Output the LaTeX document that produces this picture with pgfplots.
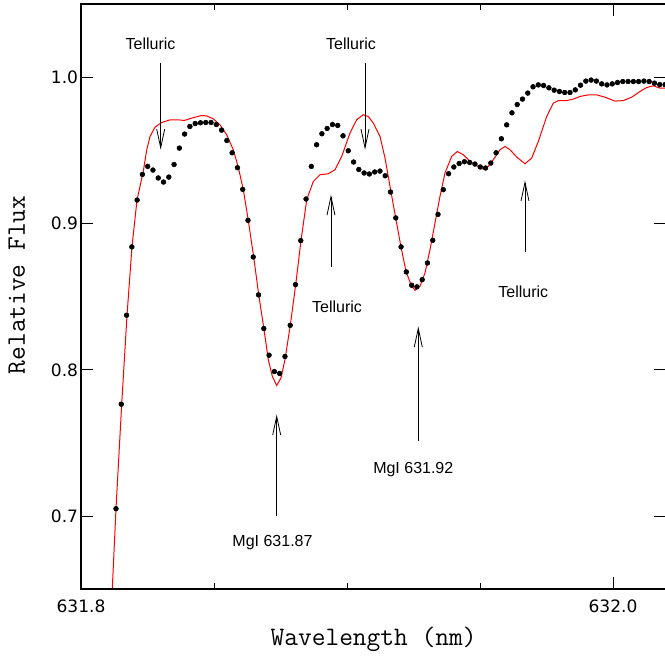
\documentclass[border=0pt]{standalone}
\usepackage{pgfplots}
\usepackage{pgfplotstable}
\pgfplotsset{compat=1.18}
\usetikzlibrary{arrows.meta}
\usepackage{fontspec}
\setmainfont{Liberation Sans}
\newfontfamily\tickfont{DejaVu Sans}

% x = wavelength - 631.8 nm
\pgfplotstableread{
x y
0.01316 0.7051
0.01514 0.7765
0.01713 0.8373
0.01911 0.8840
0.02110 0.9160
0.02308 0.9335
0.02507 0.9390
0.02705 0.9365
0.02904 0.9311
0.03102 0.9283
0.03301 0.9317
0.03499 0.9403
0.03698 0.9515
0.03896 0.9611
0.04094 0.9663
0.04293 0.9683
0.04491 0.9688
0.04690 0.9690
0.04888 0.9690
0.05087 0.9676
0.05285 0.9638
0.05484 0.9567
0.05682 0.9483
0.05881 0.9381
0.06079 0.9233
0.06278 0.9021
0.06476 0.8771
0.06674 0.8512
0.06873 0.8282
0.07071 0.8100
0.07270 0.7988
0.07468 0.7975
0.07667 0.8091
0.07865 0.8304
0.08064 0.8582
0.08262 0.8883
0.08461 0.9167
0.08659 0.9390
0.08857 0.9538
0.09056 0.9613
0.09254 0.9649
0.09453 0.9676
0.09651 0.9670
0.09850 0.9599
0.10048 0.9497
0.10247 0.9420
0.10445 0.9369
0.10644 0.9345
0.10842 0.9338
0.11041 0.9352
0.11239 0.9358
0.11437 0.9326
0.11636 0.9215
0.11834 0.9038
0.12033 0.8840
0.12231 0.8669
0.12430 0.8578
0.12628 0.8567
0.12827 0.8616
0.13025 0.8730
0.13224 0.8885
0.13422 0.9062
0.13621 0.9231
0.13819 0.9340
0.14017 0.9386
0.14216 0.9410
0.14414 0.9422
0.14613 0.9417
0.14811 0.9406
0.15010 0.9386
0.15208 0.9379
0.15407 0.9413
0.15605 0.9483
0.15804 0.9579
0.16002 0.9674
0.16201 0.9756
0.16399 0.9813
0.16597 0.9850
0.16796 0.9891
0.16994 0.9934
0.17193 0.9947
0.17391 0.9943
0.17590 0.9927
0.17788 0.9911
0.17987 0.9902
0.18185 0.9895
0.18384 0.9895
0.18582 0.9913
0.18780 0.9945
0.18979 0.9973
0.19177 0.9980
0.19376 0.9973
0.19574 0.9954
0.19773 0.9947
0.19971 0.9954
0.20170 0.9963
0.20368 0.9970
0.20567 0.9970
0.20765 0.9970
0.20963 0.9970
0.21162 0.9973
0.21360 0.9970
0.21559 0.9959
0.21757 0.9949
0.21956 0.9949
}\obs

\pgfplotstableread{
x y
0.01177 0.6505
0.01316 0.7051
0.01530 0.7765
0.01729 0.8370
0.01917 0.8840
0.02105 0.9160
0.02342 0.9356
0.02470 0.9503
0.02594 0.9594
0.02782 0.9658
0.03034 0.9690
0.03346 0.9708
0.03658 0.9708
0.03883 0.9704
0.04162 0.9720
0.04538 0.9738
0.04726 0.9735
0.04974 0.9715
0.05226 0.9674
0.05477 0.9606
0.05726 0.9503
0.05914 0.9384
0.06102 0.9231
0.06289 0.9021
0.06492 0.8771
0.06680 0.8516
0.06880 0.8275
0.07041 0.8070
0.07192 0.7956
0.07357 0.7893
0.07519 0.7945
0.07669 0.8070
0.07868 0.8304
0.08071 0.8582
0.08271 0.8883
0.08485 0.9162
0.08733 0.9287
0.08985 0.9333
0.09297 0.9340
0.09549 0.9367
0.09801 0.9458
0.10113 0.9618
0.10365 0.9709
0.10613 0.9743
0.10801 0.9731
0.10989 0.9686
0.11241 0.9595
0.11429 0.9447
0.11617 0.9253
0.11831 0.9038
0.12030 0.8840
0.12218 0.8673
0.12406 0.8582
0.12556 0.8543
0.12744 0.8571
0.12932 0.8662
0.13120 0.8821
0.13308 0.9003
0.13496 0.9185
0.13684 0.9345
0.13936 0.9458
0.14147 0.9492
0.14372 0.9470
0.14624 0.9424
0.14876 0.9395
0.15124 0.9372
0.15312 0.9390
0.15500 0.9435
0.15752 0.9504
0.15940 0.9526
0.16128 0.9504
0.16380 0.9454
0.16692 0.9408
0.16944 0.9447
0.17192 0.9560
0.17508 0.9731
0.17756 0.9823
0.17944 0.9840
0.18259 0.9840
0.18508 0.9850
0.18759 0.9868
0.19071 0.9879
0.19387 0.9879
0.19699 0.9863
0.20075 0.9836
0.20387 0.9840
0.20703 0.9863
0.21015 0.9902
0.21267 0.9929
0.21515 0.9941
0.21767 0.9925
0.21992 0.9925
}\model

\begin{document}
\begin{tikzpicture}
\begin{axis}[
  at={(0,0)}, anchor=south west,
  scale only axis, width=438.9pt, height=439pt,
  xmin=0, xmax=0.22, ymin=0.65, ymax=1.05,
  xtick={0,0.2}, xticklabels={631.8,632.0},
  minor xtick={0.05,0.1,0.15},
  ytick={0.7,0.8,0.9,1.0}, yticklabels={0.7,0.8,0.9,1.0},
  tick align=inside,
  major tick length=9pt, minor tick length=4.5pt,
  every tick/.style={black, line width=0.6pt},
  axis line style={line width=1pt},
  ticklabel style={font=\tickfont\fontsize{12.8}{14}\selectfont, inner sep=0pt},
  xticklabel style={yshift=-7.5pt},
  yticklabel style={xshift=-2pt},
  every axis x label/.style={at={(axis description cs:0.5,-0.0952)}, anchor=base,
    font=\ttfamily\fontsize{20}{22}\selectfont},
  every axis y label/.style={at={(axis description cs:-0.0957,0.52)}, rotate=90, anchor=base,
    font=\ttfamily\fontsize{20}{22}\selectfont},
  xlabel={Wavelength (nm)},
  ylabel={Relative Flux},
  clip=false,
]
\addplot[red, line width=0.75pt, no marks] table[x=x, y=y] {\model};
\addplot[only marks, mark=*, mark size=1.8pt, black] table[x=x, y=y] {\obs};

\draw[line width=1.6pt] (rel axis cs:0,0) -- (rel axis cs:1,0);

\tikzset{arr/.style={-{Straight Barb[length=14pt,width=6pt]}, line width=0.6pt, black}}
\draw[arr] (axis cs:0.02996,1.0096) -- (axis cs:0.02996,0.9504);
\draw[arr] (axis cs:0.10677,1.0096) -- (axis cs:0.10677,0.9504);
\draw[arr] (axis cs:0.09398,0.8705) -- (axis cs:0.09398,0.9197);
\draw[arr] (axis cs:0.12680,0.7513) -- (axis cs:0.12680,0.8296);
\draw[arr] (axis cs:0.07357,0.7000) -- (axis cs:0.07357,0.7695);
\draw[arr] (axis cs:0.16692,0.8807) -- (axis cs:0.16692,0.9294);

\tikzset{ann/.style={anchor=base, inner sep=0pt, font=\fontsize{12}{14}\selectfont}}
\node[ann] at (axis cs:0.02613,1.0191) {Telluric};
\node[ann] at (axis cs:0.10150,1.0191) {Telluric};
\node[ann] at (axis cs:0.09624,0.8393) {Telluric};
\node[ann] at (axis cs:0.12492,0.7292) {MgI 631.92};
\node[ann] at (axis cs:0.07199,0.6792) {MgI 631.87};
\node[ann] at (axis cs:0.16628,0.8491) {Telluric};
\end{axis}
\pgfresetboundingbox
\useasboundingbox (-60.75pt,-50.78pt) rectangle (438pt,441.98pt);
\end{tikzpicture}
\end{document}
